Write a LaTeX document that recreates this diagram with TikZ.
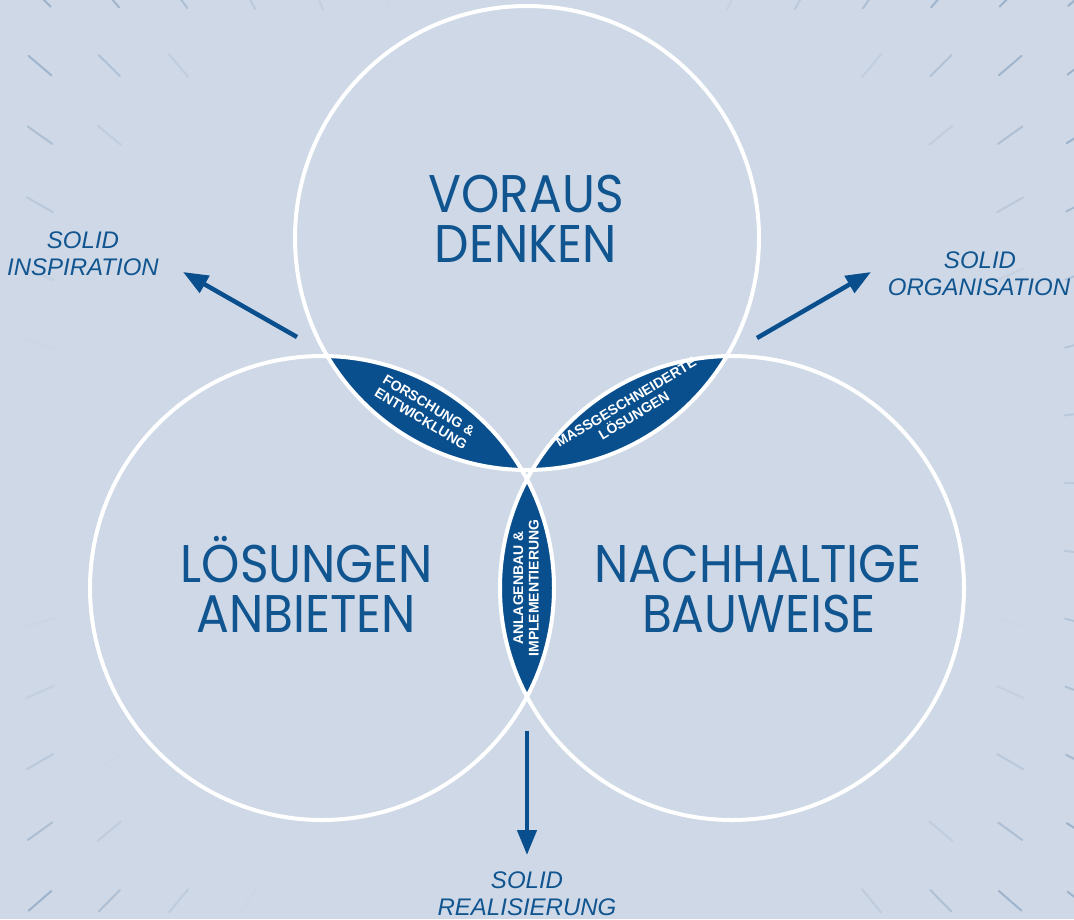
\documentclass[tikz,border=0pt]{standalone}
\usepackage{fontspec}
\setmainfont{Liberation Sans}
\newfontfamily\titlefont[FakeStretch=0.92]{Poppins}
\usetikzlibrary{arrows.meta}
\definecolor{bgc}{HTML}{CED8E6}
\definecolor{navy}{HTML}{0A4F8D}
\definecolor{txtc}{HTML}{10558F}
\definecolor{tickc}{HTML}{9DB2CB}
\begin{document}
\begin{tikzpicture}[x=1pt,y=-1pt,
  title/.style={text=txtc, font=\titlefont\fontsize{53}{52}\selectfont, anchor=base, inner sep=0pt},
  sol/.style={text=txtc, font=\itshape\fontsize{24}{26}\selectfont, anchor=base, inner sep=0pt},
  lenslabel/.style={text=white, font=\bfseries\fontsize{14}{15.5}\selectfont, align=center, inner sep=0pt},
  ring/.style={draw=white, line width=4pt},
  pointer/.style={draw=navy, line width=4.5pt, -{Triangle[length=25pt,width=19pt]}},
]
\fill[bgc] (0,0) rectangle (1074,919);
\useasboundingbox (0,0) rectangle (1074,919);
% background radial ticks
\begin{scope}
\clip (0,0) rectangle (1074,919);
\foreach \i in {0,...,15}{
  \foreach \j in {0,...,13}{
    \pgfmathsetmacro{\px}{40+69.3*\i}
    \pgfmathsetmacro{\py}{-4+69.6*\j}
    \pgfmathsetmacro{\dx}{(527-\px)/100}
    \pgfmathsetmacro{\dy}{(480-\py)/100}
    \pgfmathsetmacro{\dd}{veclen(\dx,\dy)}
    \pgfmathsetmacro{\op}{min(1,max(0,(\dd-5.0)/1.5))}
    \ifdim\op pt>0.01pt
      \draw[tickc, line width=2pt, opacity=\op, line cap=round] (\px-15*\dx/\dd, \py-15*\dy/\dd) -- (\px+15*\dx/\dd, \py+15*\dy/\dd);
    \fi
  }
}
\end{scope}
% circle centres
\coordinate (ct) at (527,238);
\coordinate (cl) at (322,588);
\coordinate (cr) at (732,588);
\def\R{232}
% lenses
\begin{scope}
  \clip (ct) circle[radius=\R]; \clip (cl) circle[radius=\R];
  \fill[navy, even odd rule] (0,0) rectangle (1074,919) (cr) circle[radius=\R];
\end{scope}
\begin{scope}
  \clip (ct) circle[radius=\R]; \clip (cr) circle[radius=\R];
  \fill[navy, even odd rule] (0,0) rectangle (1074,919) (cl) circle[radius=\R];
\end{scope}
\begin{scope}
  \clip (cl) circle[radius=\R]; \clip (cr) circle[radius=\R];
  \fill[navy, even odd rule] (0,0) rectangle (1074,919) (ct) circle[radius=\R];
\end{scope}
\draw[ring] (ct) circle[radius=\R];
\draw[ring] (cl) circle[radius=\R];
\draw[ring] (cr) circle[radius=\R];
% titles
\node[title] (t1a) at (526,212) {VORAUS};
\node[title] (t1b) at (526,262) {DENKEN};
\node[title] (t2a) at (307,582) {LÖSUNGEN};
\node[title] (t2b) at (306,632) {ANBIETEN};
\node[title] (t3a) at (758,582) {NACHHALTIGE};
\node[title] (t3b) at (759,632) {BAUWEISE};
% lens labels
\node[lenslabel, rotate=-31] (l1) at (425,412) {FORSCHUNG \&\\ENTWICKLUNG};
\node[lenslabel, rotate=31] (l2) at (630,409) {MASSGESCHNEIDERTE\\LÖSUNGEN};
\node[lenslabel, rotate=90] (l3) at (526,588) {ANLAGENBAU \&\\IMPLEMENTIERUNG};
% outer labels
\node[sol] (s1a) at (83,248) {SOLID};
\node[sol] (s1b) at (83,275) {INSPIRATION};
\node[sol] (s2a) at (980,268) {SOLID};
\node[sol] (s2b) at (979,295) {ORGANISATION};
\node[sol] (s3a) at (527,888) {SOLID};
\node[sol] (s3b) at (527,915) {REALISIERUNG};
% arrows
\coordinate (a1s) at (297,337); \coordinate (a1e) at (183,272);
\coordinate (a2s) at (757,338); \coordinate (a2e) at (871,272);
\coordinate (a3s) at (527,731); \coordinate (a3e) at (527,855);
\draw[pointer] (a1s) -- (a1e);
\draw[pointer] (a2s) -- (a2e);
\draw[pointer] (a3s) -- (a3e);
\end{tikzpicture}
\end{document}
